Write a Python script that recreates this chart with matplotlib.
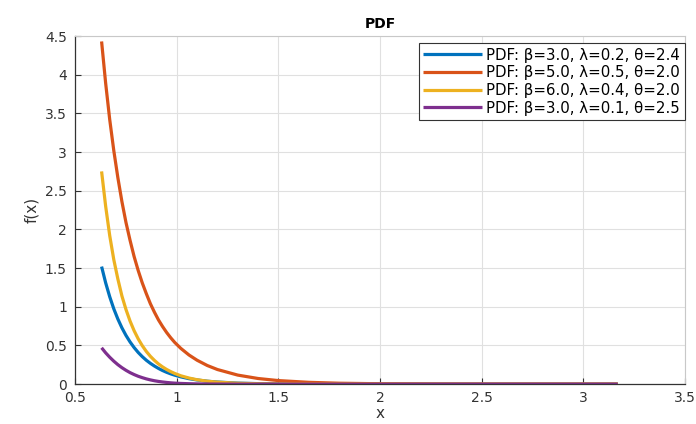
import matplotlib
matplotlib.use("Agg")
import matplotlib.pyplot as plt

plt.rcParams['font.family'] = ['DejaVu Sans']

# values
x = [0.63, 0.65, 0.67, 0.69, 0.71, 0.73, 0.75, 0.77, 0.79, 0.81, 0.83, 0.85, 0.87,
     0.89, 0.91, 0.93, 0.95, 0.97, 0.99, 1.02, 1.06, 1.10, 1.15, 1.20, 1.30, 1.40,
     1.50, 1.65, 1.80, 2.00, 2.30, 2.60, 3.00, 3.17]

pdf_blue = [1.52, 1.31, 1.13, 0.974, 0.842, 0.728, 0.630, 0.546, 0.473, 0.410, 0.356, 0.309,
            0.269, 0.234, 0.203, 0.176, 0.153, 0.133, 0.116, 0.094, 0.071, 0.054, 0.038,
            0.027, 0.0133, 0.0066, 0.0033, 0.0012, 0.0004, 0.0001, 0.0, 0.0, 0.0, 0.0]
pdf_red = [4.43, 3.89, 3.42, 3.02, 2.67, 2.36, 2.09, 1.86, 1.65, 1.47, 1.31, 1.17, 1.04,
           0.93, 0.83, 0.745, 0.668, 0.600, 0.539, 0.462, 0.377, 0.309, 0.241, 0.189,
           0.117, 0.073, 0.046, 0.0235, 0.012, 0.005, 0.0013, 0.0004, 0.0001, 0.0]
pdf_yellow = [2.75, 2.30, 1.92, 1.61, 1.36, 1.14, 0.965, 0.816, 0.691, 0.586, 0.498, 0.423,
              0.360, 0.307, 0.261, 0.223, 0.190, 0.162, 0.138, 0.108, 0.079, 0.057, 0.038,
              0.026, 0.0115, 0.0052, 0.0023, 0.0007, 0.0002, 0.0, 0.0, 0.0, 0.0, 0.0]
pdf_purple = [0.47, 0.405, 0.348, 0.297, 0.252, 0.213, 0.179, 0.149, 0.124, 0.102, 0.084,
              0.068, 0.055, 0.044, 0.035, 0.028, 0.022, 0.017, 0.013, 0.009, 0.0055, 0.0033,
              0.0017, 0.0009, 0.0002, 0.0001, 0.0, 0.0, 0.0, 0.0, 0.0, 0.0, 0.0, 0.0]

labels = ['PDF: β=3.0, λ=0.2, θ=2.4',
          'PDF: β=5.0, λ=0.5, θ=2.0',
          'PDF: β=6.0, λ=0.4, θ=2.0',
          'PDF: β=3.0, λ=0.1, θ=2.5']
colors = ['#0072BD', '#D95319', '#EDB120', '#7E2F8E']

fig = plt.figure(figsize=(6.96, 4.24), dpi=100)
ax = fig.add_axes([0.108, 0.094, 0.876, 0.821])

for y, lab, c in zip([pdf_blue, pdf_red, pdf_yellow, pdf_purple], labels, colors):
    ax.plot(x, y, color=c, lw=2.3, label=lab, solid_capstyle='butt')

ax.set_xlim(0.5, 3.5)
ax.set_ylim(0, 4.5)
ax.set_xticks([0.5, 1, 1.5, 2, 2.5, 3, 3.5])
ax.set_xticklabels(['0.5', '1', '1.5', '2', '2.5', '3', '3.5'])
ax.set_yticks([0, 0.5, 1, 1.5, 2, 2.5, 3, 3.5, 4, 4.5])
ax.set_yticklabels(['0', '0.5', '1', '1.5', '2', '2.5', '3', '3.5', '4', '4.5'])
ax.grid(True, color='#e0e0e0', lw=0.8)
ax.set_axisbelow(True)
ax.tick_params(direction='in', labelsize=10, colors='#333333', length=4, width=0.8)
ax.tick_params(axis='x', pad=5)
ax.tick_params(axis='y', pad=6)
for s in ['left', 'bottom']:
    ax.spines[s].set_color('#333333')
    ax.spines[s].set_linewidth(0.9)
for s in ['top', 'right']:
    ax.spines[s].set_color('#c8c8c8')
    ax.spines[s].set_linewidth(0.8)

ax.set_title('PDF', fontsize=10, fontweight='bold', pad=6)
ax.set_xlabel('x', fontsize=11, color='#333333', labelpad=1)
ax.set_ylabel('f(x)', fontsize=11, color='#333333', labelpad=4)

leg = ax.legend(loc='upper right', bbox_to_anchor=(1.0, 0.98), fontsize=10.8,
                handlelength=3.9, fancybox=False, framealpha=1, edgecolor='#333333',
                borderpad=0.3, labelspacing=0.18, handletextpad=0.3, borderaxespad=0.0)
leg.get_frame().set_linewidth(0.8)

fig.savefig('out.png', dpi=100)
